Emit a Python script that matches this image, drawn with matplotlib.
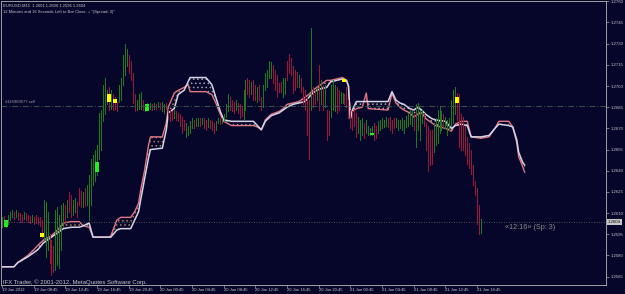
import numpy as np
import matplotlib.pyplot as plt
import matplotlib.transforms as mtransforms

# ---- chart texts ----
symbol_info = "EURUSD,M15  1.2601 1.2606 1.2596 1.2604"
timer_info = '12 Minutes and 16 Seconds Left to Bar Close. + "(Spread: 3)"'
order_label = "#116969577 sell"
order_price = 1.2686
bid_price = 1.2604
copyright_text = "IFX Trader, \u00a9 2001-2012, MetaQuotes Software Corp."
countdown_text = "\u00ab12:16\u00bb (Sp: 3)"

time_labels = ["19 Jun 2012", "19 Jun 08:45", "19 Jun 12:45", "19 Jun 16:45",
               "19 Jun 20:45", "20 Jun 00:45", "20 Jun 04:45", "20 Jun 08:45",
               "20 Jun 12:45", "20 Jun 16:45", "20 Jun 20:45", "21 Jun 00:45",
               "21 Jun 04:45", "21 Jun 08:45", "21 Jun 12:45", "21 Jun 16:45"]
price_ticks = [1.2760, 1.2745, 1.2730, 1.2715, 1.2700, 1.2685, 1.2670,
               1.2655, 1.2640, 1.2625, 1.2610, 1.2595, 1.2580, 1.2565]

# ---- M15 bars ----
bar_high = [
    1.2607, 1.2608, 1.2605, 1.2609, 1.2611, 1.2612, 1.2611, 1.2612, 1.2611, 1.2610,
    1.2609, 1.2611, 1.2610, 1.2609, 1.2608, 1.2609, 1.2607, 1.2609, 1.2607, 1.2607,
    1.2605, 1.2619, 1.2618, 1.2611, 1.2595, 1.2591, 1.2587, 1.2612, 1.2614, 1.2609,
    1.2616, 1.2617, 1.2616, 1.2619, 1.2625, 1.2623, 1.2619, 1.2621, 1.2618, 1.2628,
    1.2626, 1.2625, 1.2628, 1.2630, 1.2637, 1.2648, 1.2651, 1.2655, 1.2658, 1.2681,
    1.2683, 1.2701, 1.2706, 1.2697, 1.2699, 1.2697, 1.2694, 1.2692, 1.2689, 1.2701,
    1.2706, 1.2722, 1.2730, 1.2726, 1.2722, 1.2718, 1.2709, 1.2694, 1.2690, 1.2694,
    1.2696, 1.2690, 1.2687, 1.2688, 1.2687, 1.2688, 1.2687, 1.2688, 1.2687, 1.2689,
    1.2688, 1.2689, 1.2687, 1.2688, 1.2684, 1.2683, 1.2682, 1.2683, 1.2682, 1.2681,
    1.2680, 1.2678, 1.2676, 1.2674, 1.2672, 1.2675, 1.2677, 1.2676, 1.2677, 1.2677,
    1.2677, 1.2677, 1.2677, 1.2676, 1.2677, 1.2676, 1.2675, 1.2674, 1.2675, 1.2677,
    1.2677, 1.2677, 1.2680, 1.2687, 1.2694, 1.2692, 1.2690, 1.2689, 1.2690, 1.2688,
    1.2687, 1.2686, 1.2697, 1.2704, 1.2706, 1.2704, 1.2703, 1.2704, 1.2701, 1.2699,
    1.2701, 1.2692, 1.2701, 1.2709, 1.2711, 1.2718, 1.2717, 1.2715, 1.2711, 1.2708,
    1.2702, 1.2703, 1.2706, 1.2706, 1.2718, 1.2723, 1.2720, 1.2714, 1.2711, 1.2710,
    1.2708, 1.2706, 1.2699, 1.2697, 1.2692, 1.2690, 1.2741, 1.2699, 1.2697, 1.2699,
    1.2715, 1.2704, 1.2701, 1.2701, 1.2683, 1.2682, 1.2701, 1.2704, 1.2701, 1.2699,
    1.2697, 1.2696, 1.2695, 1.2694, 1.2699, 1.2690, 1.2683, 1.2682, 1.2683, 1.2681,
    1.2678, 1.2676, 1.2677, 1.2674, 1.2676, 1.2672, 1.2670, 1.2672, 1.2674, 1.2672,
    1.2675, 1.2676, 1.2677, 1.2676, 1.2678, 1.2677, 1.2678, 1.2676, 1.2677, 1.2677,
    1.2676, 1.2676, 1.2677, 1.2676, 1.2679, 1.2681, 1.2683, 1.2682, 1.2681, 1.2687,
    1.2688, 1.2683, 1.2683, 1.2681, 1.2674, 1.2672, 1.2669, 1.2669, 1.2674, 1.2677,
    1.2683, 1.2685, 1.2682, 1.2680, 1.2678, 1.2676, 1.2677, 1.2690, 1.2697, 1.2699,
    1.2695, 1.2694, 1.2680, 1.2678, 1.2672, 1.2664, 1.2660, 1.2655, 1.2644, 1.2633,
    1.2628, 1.2616, 1.2606]
bar_low = [
    1.2600, 1.2601, 1.2600, 1.2602, 1.2605, 1.2607, 1.2606, 1.2607, 1.2605, 1.2604,
    1.2604, 1.2606, 1.2605, 1.2604, 1.2603, 1.2604, 1.2602, 1.2603, 1.2602, 1.2601,
    1.2593, 1.2591, 1.2579, 1.2584, 1.2575, 1.2566, 1.2568, 1.2570, 1.2573, 1.2571,
    1.2584, 1.2600, 1.2602, 1.2607, 1.2611, 1.2607, 1.2609, 1.2611, 1.2607, 1.2616,
    1.2614, 1.2614, 1.2615, 1.2616, 1.2605, 1.2616, 1.2630, 1.2633, 1.2637, 1.2648,
    1.2655, 1.2675, 1.2680, 1.2687, 1.2683, 1.2684, 1.2683, 1.2684, 1.2682, 1.2689,
    1.2690, 1.2701, 1.2708, 1.2714, 1.2709, 1.2704, 1.2688, 1.2682, 1.2683, 1.2684,
    1.2684, 1.2683, 1.2682, 1.2684, 1.2684, 1.2684, 1.2683, 1.2684, 1.2684, 1.2685,
    1.2684, 1.2682, 1.2681, 1.2684, 1.2677, 1.2675, 1.2676, 1.2677, 1.2676, 1.2675,
    1.2672, 1.2667, 1.2669, 1.2664, 1.2665, 1.2667, 1.2670, 1.2670, 1.2672, 1.2672,
    1.2672, 1.2673, 1.2670, 1.2669, 1.2671, 1.2670, 1.2669, 1.2667, 1.2669, 1.2674,
    1.2673, 1.2674, 1.2675, 1.2678, 1.2682, 1.2683, 1.2682, 1.2681, 1.2683, 1.2681,
    1.2677, 1.2679, 1.2676, 1.2683, 1.2694, 1.2692, 1.2694, 1.2690, 1.2690, 1.2689,
    1.2690, 1.2683, 1.2685, 1.2697, 1.2699, 1.2706, 1.2706, 1.2702, 1.2697, 1.2692,
    1.2696, 1.2696, 1.2692, 1.2694, 1.2704, 1.2709, 1.2708, 1.2695, 1.2697, 1.2699,
    1.2699, 1.2696, 1.2687, 1.2683, 1.2665, 1.2648, 1.2683, 1.2685, 1.2687, 1.2690,
    1.2683, 1.2687, 1.2683, 1.2685, 1.2662, 1.2665, 1.2678, 1.2683, 1.2682, 1.2681,
    1.2683, 1.2688, 1.2688, 1.2687, 1.2685, 1.2677, 1.2670, 1.2669, 1.2672, 1.2664,
    1.2667, 1.2662, 1.2665, 1.2663, 1.2667, 1.2665, 1.2665, 1.2665, 1.2662, 1.2663,
    1.2667, 1.2669, 1.2670, 1.2671, 1.2672, 1.2671, 1.2669, 1.2667, 1.2670, 1.2671,
    1.2669, 1.2670, 1.2669, 1.2667, 1.2671, 1.2672, 1.2673, 1.2672, 1.2669, 1.2657,
    1.2669, 1.2662, 1.2674, 1.2672, 1.2655, 1.2640, 1.2644, 1.2645, 1.2653, 1.2658,
    1.2660, 1.2667, 1.2669, 1.2671, 1.2670, 1.2665, 1.2669, 1.2672, 1.2674, 1.2680,
    1.2676, 1.2657, 1.2655, 1.2655, 1.2651, 1.2645, 1.2642, 1.2638, 1.2630, 1.2623,
    1.2602, 1.2595, 1.2596]
# G = up bar, R = down bar
bar_dir = ("GRGGGGRGRR" "RGRRRGRRRR" "RGGGRRRGGG" "GGRGRRGGRR" "RGRGGGGGGG"
           "GGGGRGRRRG" "GGGGRRRRGG" "GRGGRGRGRG" "RGGRRRRGRR" "RRRGGGGRGG"
           "RGRRGRRRGG" "RGGGGRRRGR" "RRGGRRGRRG" "RRGGGGGRRR" "RRGGRRRRRR"
           "GRRRRRGRRG" "RGRGRRGGGR" "RGGRRRRRRR" "GGGRGGGGRR" "GGGGGRRRRG"
           "GGGGGGGGRG" "GGGRRRRRGG" "GGGRGGGGGG" "RRRRRRRRRR" "RRG")

# highlighted bars (yellow / lime blocks)
mark_idx = [2, 20, 48, 54, 57, 73, 173, 187, 230]
mark_top = [1.2605, 1.2596, 1.2646, 1.2694, 1.2691, 1.2687, 1.2705, 1.2667, 1.2692]
mark_bot = [1.2600, 1.2593, 1.2639, 1.2689, 1.2688, 1.2682, 1.2703, 1.2665, 1.2688]
mark_col = "GYGYYGYGY"

# ---- Ichimoku cloud (senkou spans, shifted forward) ----
span_idx = [0, 6, 8, 13, 16, 18, 21, 25, 28, 31,
            35, 39, 41, 44, 46, 54, 55, 58, 60, 65,
            67, 69, 70, 72, 74, 75, 81, 83, 84, 87,
            89, 92, 94, 95, 103, 106, 108, 110, 112, 116,
            127, 129, 131, 133, 136, 140, 142, 144, 147, 150,
            153, 155, 157, 159, 161, 164, 166, 172, 174, 175,
            176, 177, 179, 182, 184, 185, 195, 197, 199, 201,
            203, 206, 208, 210, 212, 214, 217, 219, 224, 227,
            229, 232, 235, 237, 242, 246, 249, 251, 256, 258,
            260, 261, 263, 264]
span_a = [1.2572, 1.2572, 1.2575, 1.2580, 1.2584, 1.2587, 1.2591, 1.2594, 1.2598, 1.2603,
          1.2604, 1.2604, 1.2601, 1.2600, 1.2593, 1.2593, 1.2594, 1.2605, 1.2607, 1.2607,
          1.2611, 1.2617, 1.2626, 1.2640, 1.2658, 1.2664, 1.2664, 1.2674, 1.2685, 1.2695,
          1.2697, 1.2699, 1.2701, 1.2696, 1.2696, 1.2694, 1.2688, 1.2681, 1.2675, 1.2672,
          1.2672, 1.2671, 1.2669, 1.2676, 1.2680, 1.2682, 1.2684, 1.2687, 1.2688, 1.2689,
          1.2692, 1.2694, 1.2697, 1.2699, 1.2701, 1.2704, 1.2704, 1.2706, 1.2704, 1.2700,
          1.2677, 1.2682, 1.2684, 1.2685, 1.2695, 1.2684, 1.2683, 1.2695, 1.2688, 1.2685,
          1.2683, 1.2681, 1.2678, 1.2680, 1.2681, 1.2677, 1.2674, 1.2672, 1.2670, 1.2668,
          1.2673, 1.2675, 1.2675, 1.2664, 1.2663, 1.2664, 1.2670, 1.2675, 1.2675, 1.2671,
          1.2660, 1.2650, 1.2643, 1.2639]
span_b = [1.2572, 1.2572, 1.2575, 1.2579, 1.2582, 1.2584, 1.2589, 1.2593, 1.2596, 1.2599,
          1.2600, 1.2600, 1.2601, 1.2603, 1.2593, 1.2593, 1.2593, 1.2598, 1.2599, 1.2599,
          1.2605, 1.2611, 1.2619, 1.2634, 1.2649, 1.2655, 1.2656, 1.2669, 1.2681, 1.2684,
          1.2694, 1.2697, 1.2703, 1.2706, 1.2706, 1.2701, 1.2692, 1.2683, 1.2676, 1.2675,
          1.2675, 1.2672, 1.2669, 1.2675, 1.2679, 1.2681, 1.2683, 1.2685, 1.2687, 1.2688,
          1.2689, 1.2692, 1.2695, 1.2697, 1.2698, 1.2699, 1.2703, 1.2705, 1.2704, 1.2700,
          1.2677, 1.2683, 1.2689, 1.2689, 1.2689, 1.2689, 1.2689, 1.2696, 1.2690, 1.2688,
          1.2687, 1.2684, 1.2683, 1.2685, 1.2683, 1.2680, 1.2677, 1.2676, 1.2675, 1.2670,
          1.2672, 1.2673, 1.2672, 1.2664, 1.2664, 1.2665, 1.2670, 1.2673, 1.2672, 1.2671,
          1.2662, 1.2653, 1.2646, 1.2644]

BG = "#06062a"
FG = "#c8c8c8"
plt.rcParams["font.family"] = ["Liberation Sans", "DejaVu Sans"]
plt.rcParams["hatch.linewidth"] = 0.6

fig = plt.figure(figsize=(6.25, 2.94), dpi=100, facecolor=BG)
ax = fig.add_axes([1 / 625, 9 / 294, 605 / 625, 284 / 294], facecolor=BG)

# cloud
sx = np.array(span_idx)
sa = np.array(span_a)
sb = np.array(span_b)
ax.fill_between(sx, sa, sb, where=sa >= sb, interpolate=True, facecolor="none",
                edgecolor="#a8805e", hatch="....", linewidth=0)
ax.fill_between(sx, sa, sb, where=sb > sa, interpolate=True, facecolor="none",
                edgecolor="#a4a4b4", hatch="....", linewidth=0)
ax.plot(sx, sa, color="#e07884", lw=1.0)
ax.plot(sx, sb, color="#d4d4e6", lw=1.1)

# bars, drawn pixel-sharp like the terminal does
x = np.arange(len(bar_high))
hi = np.array(bar_high)
lo = np.array(bar_low)
up = np.array([c == "G" for c in bar_dir])
ax.vlines(x[up], lo[up], hi[up], color="#1e7a1e", lw=0.72, antialiased=False)
ax.vlines(x[~up], lo[~up], hi[~up], color="#9c1638", lw=0.72, antialiased=False)

mcols = ["#22ee22" if c == "G" else "#ffff00" for c in mark_col]
ax.vlines(mark_idx, mark_bot, mark_top, colors=mcols, lw=1.5, antialiased=False)

# order line and bid line
ax.axhline(order_price, color="#3a564c", lw=0.7, ls=(0, (6, 2, 1, 2)))
ax.axhline(bid_price, color="#686868", lw=0.6, ls=(0, (1, 2)))
ax.text(4 / 605, order_price + 0.0001, order_label, transform=ax.get_yaxis_transform(),
        color="#a0a0a0", fontsize=3, va="bottom", ha="left")

# axes
ax.set_xlim(-0.5, 305.1)
ax.set_ylim(1.25591, 1.27602)
ax.yaxis.tick_right()
ax.set_yticks(price_ticks)
ax.set_yticklabels([f"{p:.4f}" for p in price_ticks])
ax.set_xticks(np.arange(len(time_labels)) * 16)
ax.set_xticklabels(time_labels)
for lbl in ax.get_xticklabels():
    lbl.set_ha("left")
ax.tick_params(axis="y", colors="#a0a0a0", labelcolor=FG, labelsize=3.1,
               length=2, width=0.5, pad=1)
ax.tick_params(axis="x", colors="#a0a0a0", labelcolor=FG, labelsize=3.0,
               length=2, width=0.5, pad=0.5)
for s in ax.spines.values():
    s.set_color("#a0a0a0")
    s.set_linewidth(0.7)

# current price box
trans = mtransforms.blended_transform_factory(fig.transFigure, ax.transData)
fig.text(608 / 625, bid_price, f"{bid_price:.4f}", transform=trans, fontsize=3.1,
         color="#000000", va="center", ha="left",
         bbox=dict(boxstyle="square,pad=0.25", fc="#c8c8c8", ec="none"))

# texts inside chart
fig.text(3 / 625, 1 - 6 / 294, symbol_info, color=FG, fontsize=3.0, va="center")
fig.text(3 / 625, 1 - 12.5 / 294, timer_info, color=FG, fontsize=3.0, va="center")
fig.text(3 / 625, 1 - 282 / 294, copyright_text, color=FG, fontsize=4.3, va="center")
fig.text(505 / 625, bid_price - 0.00015, countdown_text, transform=trans,
         color="#8c8c8c", fontsize=5.2, va="top", ha="left")

fig.savefig("out.png", dpi=100, facecolor=BG)
